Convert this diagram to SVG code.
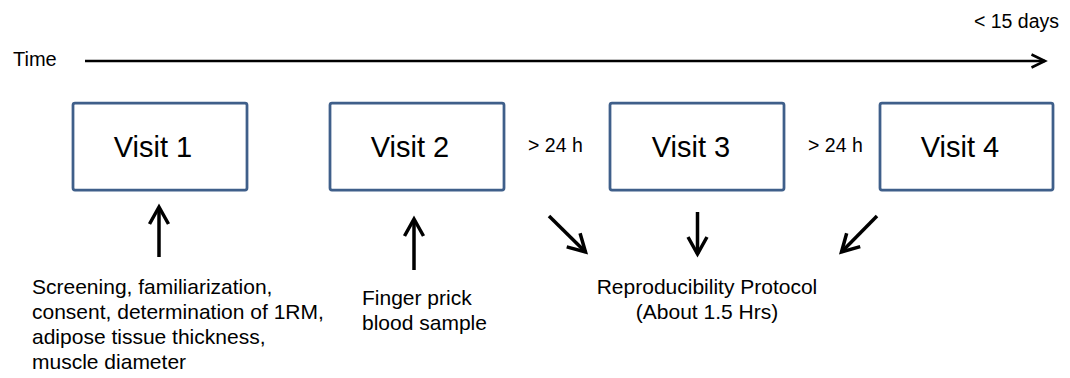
<svg xmlns="http://www.w3.org/2000/svg" width="1070" height="378" viewBox="0 0 1070 378">
<defs>
<style>
.t{font-family:"Liberation Sans",Arial,sans-serif;fill:#000}
.s{font-size:19.5px}
.m{font-size:21px}
.v{font-size:29px;text-anchor:middle}
.c{text-anchor:middle}
.box{fill:#fff;stroke:#3F5F8A;stroke-width:2.75}
.arr{fill:none;stroke:#000;stroke-width:3.5;marker-end:url(#head)}
.axis{fill:none;stroke:#000;stroke-width:2.3;marker-end:url(#headS)}
</style>
<marker id="head" markerUnits="userSpaceOnUse" viewBox="-22 -14 26 28" markerWidth="26" markerHeight="28" refX="0" refY="0" orient="auto" overflow="visible">
<path d="M-17,-9.5 L0,0 L-17,9.5" fill="none" stroke="#000" stroke-width="3.5" stroke-linejoin="miter"/>
</marker>
<marker id="headS" markerUnits="userSpaceOnUse" viewBox="-18 -10 22 20" markerWidth="22" markerHeight="20" refX="0" refY="0" orient="auto" overflow="visible">
<path d="M-13.5,-6.5 L0,0 L-13.5,6.5" fill="none" stroke="#000" stroke-width="2.5" stroke-linejoin="miter"/>
</marker>
</defs>
<rect width="1070" height="378" fill="#fff"/>
<g id="timeline">
<text class="t s" x="13" y="66" style="font-size:20px">Time</text>
<text class="t s" x="1059" y="28" text-anchor="end">&lt; 15 days</text>
</g>
<g id="connectors">
<line class="axis" x1="85" y1="61" x2="1045" y2="61"/>
<line class="arr" x1="159" y1="257" x2="159" y2="207"/>
<line class="arr" x1="414" y1="270" x2="414" y2="219"/>
<line class="arr" x1="549" y1="216" x2="585.5" y2="252"/>
<line class="arr" x1="697.5" y1="212" x2="697.5" y2="254"/>
<line class="arr" x1="877" y1="216" x2="841.5" y2="252"/>
</g>
<g id="visit1">
<rect class="box" x="73" y="103" width="174" height="87" rx="2"/>
<text class="t v" x="153" y="157">Visit 1</text>
</g>
<g id="visit2">
<rect class="box" x="330" y="103" width="174" height="87" rx="2"/>
<text class="t v" x="410" y="157">Visit 2</text>
</g>
<g id="visit3">
<rect class="box" x="610" y="103" width="174" height="87" rx="2"/>
<text class="t v" x="691" y="157">Visit 3</text>
</g>
<g id="visit4">
<rect class="box" x="880" y="103" width="173" height="87" rx="2"/>
<text class="t v" x="960" y="157">Visit 4</text>
</g>
<g id="gap1">
<text class="t s" x="528" y="152">&gt; 24 h</text>
</g>
<g id="gap2">
<text class="t s" x="808" y="152">&gt; 24 h</text>
</g>
<g id="note1">
<text class="t m" x="32" y="294">Screening, familiarization,</text>
<text class="t m" x="32" y="319">consent, determination of 1RM,</text>
<text class="t m" x="32" y="344">adipose tissue thickness,</text>
<text class="t m" x="32" y="369">muscle diameter</text>
</g>
<g id="note2">
<text class="t m" x="362" y="305">Finger prick</text>
<text class="t m" x="362" y="330">blood sample</text>
</g>
<g id="protocol">
<text class="t m c" x="707" y="294">Reproducibility Protocol</text>
<text class="t m c" x="707" y="319">(About 1.5 Hrs)</text>
</g>
</svg>
